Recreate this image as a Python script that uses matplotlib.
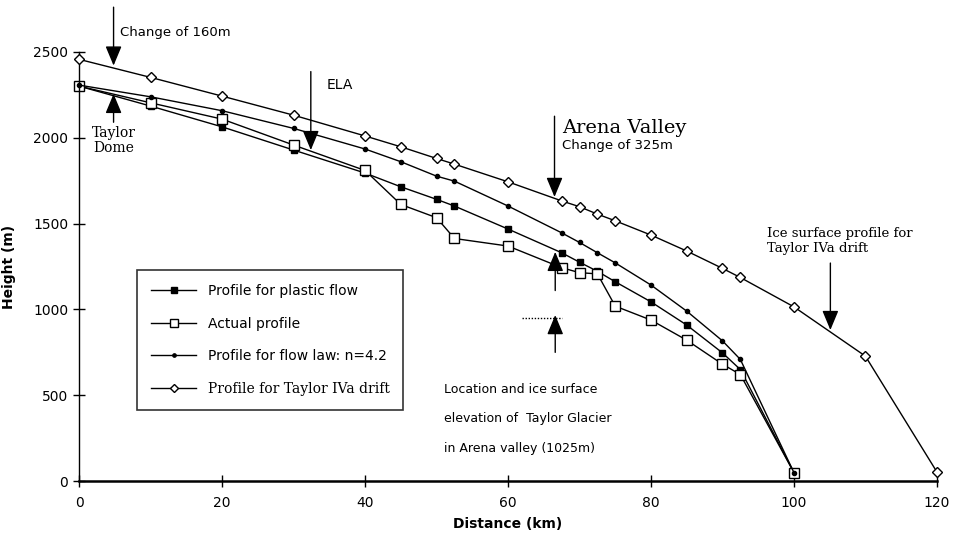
import matplotlib
matplotlib.use("Agg")
import matplotlib.pyplot as plt

# distance along the flowline (km) and heights (m)
dist_plastic = [0, 10, 20, 30, 40, 45, 50, 52.5, 60, 67.5, 70, 72.5, 75, 80, 85, 90, 92.5, 100]
h_plastic = [2300, 2184, 2063, 1928, 1794, 1714, 1641, 1602, 1468, 1330, 1275, 1222, 1161, 1044, 909, 747, 650, 50]

dist_actual = [0, 10, 20, 30, 40, 45, 50, 52.5, 60, 67.5, 70, 72.5, 75, 80, 85, 90, 92.5, 100]
h_actual = [2300, 2203, 2108, 1957, 1809, 1611, 1534, 1413, 1369, 1243, 1214, 1207, 1019, 938, 821, 681, 621, 50]

dist_flow = [0, 10, 20, 30, 40, 45, 50, 52.5, 60, 67.5, 70, 72.5, 75, 80, 85, 90, 92.5, 100]
h_flow = [2306, 2238, 2157, 2054, 1934, 1860, 1776, 1747, 1602, 1446, 1390, 1330, 1271, 1142, 990, 817, 709, 50]

dist_drift = [0, 10, 20, 30, 40, 45, 50, 52.5, 60, 67.5, 70, 72.5, 75, 80, 85, 90, 92.5, 100, 110, 120]
h_drift = [2456, 2351, 2242, 2131, 2010, 1947, 1879, 1846, 1743, 1632, 1598, 1555, 1516, 1433, 1340, 1239, 1186, 1015, 728, 54]

labels = ["Profile for plastic flow", "Actual profile",
          "Profile for flow law: n=4.2", "Profile for Taylor IVa drift"]

fig = plt.figure(figsize=(9.55, 5.4), dpi=100)
ax = fig.add_axes([0.083, 0.109, 0.898, 0.795])

l1, = ax.plot(dist_plastic, h_plastic, color="k", lw=1, marker="s", ms=5,
              mfc="k", mec="k", clip_on=False)
l2, = ax.plot(dist_actual, h_actual, color="k", lw=1, marker="s", ms=7.5,
              mfc="white", mec="k", mew=1, clip_on=False)
l3, = ax.plot(dist_flow, h_flow, color="k", lw=1, marker="o", ms=3,
              mfc="k", mec="k", clip_on=False)
l4, = ax.plot(dist_drift, h_drift, color="k", lw=1, marker="D", ms=5,
              mfc="white", mec="k", mew=1, clip_on=False, zorder=3)

ax.set_xlim(0, 120)
ax.set_ylim(0, 2500)
ax.set_xticks(range(0, 121, 20))
ax.set_yticks(range(0, 2501, 500))
for s in ["top", "right"]:
    ax.spines[s].set_visible(False)
ax.spines["bottom"].set_linewidth(1.8)
ax.spines["left"].set_linewidth(1)
ax.tick_params(axis="x", direction="inout", length=9, width=1, labelsize=10, pad=6)
ax.tick_params(axis="y", direction="inout", length=8, width=1, labelsize=10, pad=4)
ax.set_xlabel("Distance (km)", fontsize=10, fontweight="bold", labelpad=5)
ax.set_ylabel("Height (m)", fontsize=10, fontweight="bold", labelpad=12)

leg = ax.legend([l1, l2, l3, l4], labels, loc="upper left",
                bbox_to_anchor=(0.067, 0.492), borderaxespad=0, fontsize=10,
                frameon=True, fancybox=False, edgecolor="k", handlelength=3.3,
                labelspacing=1.35, borderpad=1.0, handletextpad=0.8)
leg.get_frame().set_linewidth(1.2)
leg.get_texts()[3].set_family("serif")
for h in leg.get_lines():
    h.set_markersize(h.get_markersize() * 0.8)

arrow = dict(arrowstyle="-|>,head_length=1.2,head_width=0.5", color="k", lw=1,
             shrinkA=0, shrinkB=0)


def arr(x, y0, y1):
    ax.annotate("", xy=(x, y1), xytext=(x, y0), arrowprops=arrow,
                annotation_clip=False)


arr(4.8, 2760, 2420)
ax.text(5.7, 2610, "Change of 160m", fontsize=9.5, va="center")

arr(4.8, 2090, 2255)
ax.text(4.8, 1985, "Taylor\nDome", fontsize=10, family="serif", ha="center",
        va="center", linespacing=1.1)

arr(32.4, 2385, 1928)
ax.text(34.6, 2306, "ELA", fontsize=10, va="center")

arr(66.5, 2125, 1655)
ax.text(67.5, 2054, "Arena Valley", fontsize=14, family="serif", va="center")
ax.text(67.5, 1957, "Change of 325m", fontsize=9.5, va="center")

arr(66.6, 1110, 1335)
arr(66.6, 750, 967)
ax.plot([61.9, 67.5], [950, 950], color="k", lw=1, ls=(0, (1, 1.2)))

ax.text(51.0, 534, "Location and ice surface", fontsize=9, va="center")
ax.text(51.0, 365, "elevation of  Taylor Glacier", fontsize=9, va="center")
ax.text(51.0, 190, "in Arena valley (1025m)", fontsize=9, va="center")

ax.text(96.3, 1400, "Ice surface profile for\nTaylor IVa drift", fontsize=9.5,
        family="serif", va="center", linespacing=1.2)
arr(105.1, 1270, 880)

fig.savefig("out.png", dpi=100)
